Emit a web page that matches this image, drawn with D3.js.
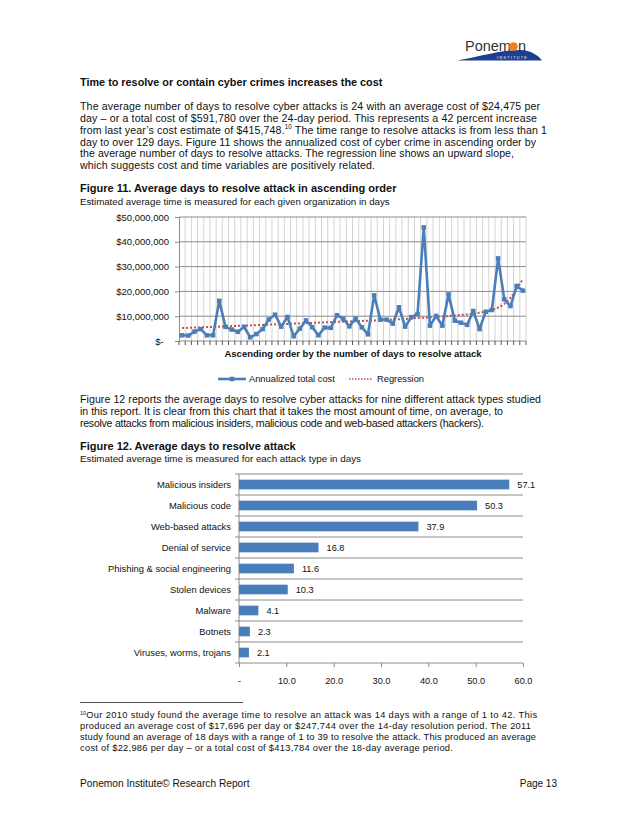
<!DOCTYPE html>
<html><head><meta charset="utf-8">
<script src="https://cdn.jsdelivr.net/npm/d3@7"></script>
<style>
html,body{margin:0;padding:0;background:#fff;}
svg{display:block;font-family:"Liberation Sans",Arial,sans-serif;}
</style></head><body>
<svg id="page" width="638" height="826"></svg>
<script>
// ---------- DATA ----------
const orgRank = [1,2,3,4,5,6,7,8,9,10,11,12,13,14,15,16,17,18,19,20,21,22,23,24,25,26,27,28,
  29,30,31,32,33,34,35,36,37,38,39,40,41,42,43,44,45,46,47,48,49,50,51,52,53,54,55,56];
// Annualized total cost, $ millions
const annualizedCost = [2.3,2.2,3.8,4.8,2.3,2.3,16.2,5.7,4.6,3.7,5.7,1.5,2.8,4.8,8.7,10.6,5.8,9.7,1.9,5.0,
  8.3,5.6,2.3,5.4,5.3,10.4,9.0,5.9,9.1,5.5,2.7,18.4,8.6,8.6,7.0,13.6,5.8,9.6,10.9,45.8,
  6.2,10.1,6.2,18.8,8.2,7.4,6.5,12.1,4.8,11.8,12.5,33.3,16.8,14.1,22.2,20.3];
// Regression (trend) line, $ millions
const regression = [5.2,5.3,5.4,5.5,5.6,5.7,5.8,5.9,6.0,6.1,6.2,6.3,6.4,6.5,6.6,6.7,6.8,6.9,7.0,7.1,
  7.2,7.3,7.4,7.5,7.6,7.7,7.8,7.9,8.0,8.1,8.2,8.3,8.4,8.5,8.6,8.8,8.9,9.1,9.3,9.4,
  9.6,9.8,9.9,10.1,10.3,10.5,10.7,11.0,11.4,11.9,12.5,13.5,15.0,17.5,21.0,25.0];
const costTicks = [0,10,20,30,40,50];

const attackTypes = ["Malicious insiders","Malicious code","Web-based attacks","Denial of service",
  "Phishing & social engineering","Stolen devices","Malware","Botnets","Viruses, worms, trojans"];
const daysToResolve = [57.1,50.3,37.9,16.8,11.6,10.3,4.1,2.3,2.1];
const dayTicks = [0,10,20,30,40,50,60];

const para1 = [
  "The average number of days to resolve cyber attacks is 24 with an average cost of $24,475 per",
  "day \u2013 or a total cost of $591,780 over the 24-day period.  This represents a 42 percent increase",
  null,
  "day to over 129 days. Figure 11 shows the annualized cost of cyber crime in ascending order by",
  "the average number of days to resolve attacks.  The regression line shows an upward slope,",
  "which suggests cost and time variables are positively related."
];
const para1Widths = [460, 457, 467, 456, 434, 295];
const para2 = [
  "Figure 12 reports the average days to resolve cyber attacks for nine different attack types studied",
  "in this report. It is clear from this chart that it takes the most amount of time, on average, to",
  "resolve attacks from malicious insiders, malicious code and web-based attackers (hackers)."
];
const para2Widths = [461, 423, 404];
const footLines = [
  "Our 2010 study found the average time to resolve an attack was 14 days with a range of 1 to 42. This",
  "produced an average cost of $17,696 per day or $247,744 over the 14-day resolution period. The 2011",
  "study found an average of 18 days with a range of 1 to 39 to resolve the attack.  This produced an average",
  "cost of $22,986 per day \u2013 or a total cost of $413,784 over the 18-day average period."
];
const footWidths = [451, 451, 456, null];

// ---------- PAGE ----------
const svg = d3.select("#page");
const txt = "#111";
const blue = "#4a7ebb";
const red = "#c0504d";
const gridDark = "#8c8c8c";
const gridLight = "#d4d4d4";

// Logo
const logo = svg.append("g");
logo.append("path")
  .attr("d","M457,60.5 C478,57 500,50 520,50 C531,50.5 538,55 542,60.5 Z")
  .attr("fill","#1d3f8f");
logo.append("text").attr("x",465).attr("y",51).attr("font-size",14.5).attr("fill","#333")
  .text("Ponem");
logo.append("circle").attr("cx",513.5).attr("cy",46.5).attr("r",4.3).attr("fill","#f0821e");
logo.append("text").attr("x",518).attr("y",51).attr("font-size",14.5).attr("fill","#333").text("n");
logo.append("text").attr("x",497).attr("y",58.5).attr("font-size",3.6).attr("fill","#fff")
  .attr("letter-spacing",1.4).text("INSTITUTE");

// Heading
svg.append("text").attr("x",80).attr("y",86).attr("font-size",10.85).attr("font-weight","bold")
  .attr("fill",txt).text("Time to resolve or contain cyber crimes increases the cost");

// Paragraph 1
const LH = 11.9;
para1.forEach((l,i)=>{
  const t = svg.append("text").attr("x",80).attr("y",109.8+i*LH).attr("font-size",10.6).attr("fill",txt)
    .attr("textLength",para1Widths[i]).attr("lengthAdjust","spacing");
  if (l !== null) t.text(l);
  else {
    t.append("tspan").text("from last year\u2019s cost estimate of $415,748.");
    t.append("tspan").attr("font-size",6.3).attr("dy",-5).text("10");
    t.append("tspan").attr("dy",5).text(" The time range to resolve attacks is from less than 1");
  }
});

svg.append("text").attr("x",80).attr("y",192.3).attr("font-size",11).attr("font-weight","bold")
  .attr("fill",txt).text("Figure 11. Average days to resolve attack in ascending order");
svg.append("text").attr("x",80).attr("y",205).attr("font-size",9.7).attr("fill",txt)
  .text("Estimated average time is measured for each given organization in days");

// ---------- Figure 11 line chart ----------
const c1 = svg.append("g");
const x1 = d3.scaleBand().domain(orgRank).range([179,526]);
const y1 = d3.scaleLinear().domain([0,50]).range([341,217]);

const bounds = orgRank.map(d=>x1(d)).concat([x1.range()[1]]);
c1.selectAll("line.vg").data(bounds.slice(1)).join("line")
  .attr("x1",d=>d).attr("x2",d=>d).attr("y1",y1(50)).attr("y2",y1(0))
  .attr("stroke",gridLight).attr("stroke-width",1);
c1.selectAll("line.hg").data(costTicks.slice(1)).join("line")
  .attr("x1",179).attr("x2",526).attr("y1",d=>y1(d)).attr("y2",d=>y1(d))
  .attr("stroke",gridDark).attr("stroke-width",1);

const yAx = c1.append("g").attr("transform","translate(179,0)")
  .call(d3.axisLeft(y1).tickValues(costTicks).tickSize(4).tickPadding(6)
    .tickFormat(d=> d===0 ? "$-\u2007" : d3.format("$,")(d*1e6)));
yAx.selectAll("path,line").attr("stroke",gridDark);
yAx.selectAll("text").attr("font-size",9.5).attr("fill",txt).attr("font-family","Liberation Sans, Arial, sans-serif");
const xAx = c1.append("g").attr("transform","translate(0,341)");
xAx.append("line").attr("x1",179).attr("x2",526).attr("stroke",gridDark);
xAx.selectAll("line.t").data(bounds).join("line")
  .attr("x1",d=>d).attr("x2",d=>d).attr("y1",0).attr("y2",4).attr("stroke","#555");

const rLine = d3.line().x((d,i)=>x1(orgRank[i])+x1.bandwidth()/2).y(d=>y1(d)).curve(d3.curveMonotoneX);
c1.append("path").datum(regression).attr("d",rLine).attr("fill","none")
  .attr("stroke",red).attr("stroke-width",2).attr("stroke-dasharray","2,2");
c1.append("path").datum(annualizedCost).attr("d",rLine.curve(d3.curveLinear)).attr("fill","none")
  .attr("stroke",blue).attr("stroke-width",2.6).attr("stroke-linejoin","round");
c1.selectAll("rect.m").data(annualizedCost).join("rect")
  .attr("x",(d,i)=>x1(orgRank[i])+x1.bandwidth()/2-2.25).attr("y",d=>y1(d)-2.25)
  .attr("width",4.5).attr("height",4.5).attr("fill",blue);

c1.append("text").attr("x",353).attr("y",356.5).attr("text-anchor","middle").attr("font-size",9.5)
  .attr("font-weight","bold").attr("fill",txt).text("Ascending order by the number of days to resolve attack");

const lg = c1.append("g");
lg.append("line").attr("x1",218).attr("x2",246).attr("y1",379).attr("y2",379).attr("stroke",blue).attr("stroke-width",2.6);
lg.append("rect").attr("x",229.75).attr("y",376.75).attr("width",4.5).attr("height",4.5).attr("fill",blue);
lg.append("text").attr("x",249).attr("y",382.3).attr("font-size",9.3).attr("fill",txt).text("Annualized total cost");
lg.append("line").attr("x1",349).attr("x2",373).attr("y1",379).attr("y2",379).attr("stroke",red)
  .attr("stroke-width",1.5).attr("stroke-dasharray","1.5,1.5");
lg.append("text").attr("x",377).attr("y",382.3).attr("font-size",9.3).attr("fill",txt).text("Regression");

// Paragraph 2
para2.forEach((l,i)=>{
  svg.append("text").attr("x",80).attr("y",402.8+i*LH).attr("font-size",10.6).attr("fill",txt)
    .attr("textLength",para2Widths[i]).attr("lengthAdjust","spacing").text(l);
});
svg.append("text").attr("x",80).attr("y",450.3).attr("font-size",11).attr("font-weight","bold")
  .attr("fill",txt).text("Figure 12. Average days to resolve attack");
svg.append("text").attr("x",80).attr("y",462).attr("font-size",9.8).attr("fill",txt)
  .text("Estimated average time is measured for each attack type in days");

// ---------- Figure 12 bar chart ----------
const c2 = svg.append("g");
const x2 = d3.scaleLinear().domain([0,60]).range([239,523]);
const y2 = d3.scaleBand().domain(attackTypes).range([474,663]).paddingInner(0.54).paddingOuter(0.27);
const rowEdges = attackTypes.map((d,i)=>474 + i*(189/9)).concat([663]);
c2.selectAll("line.g").data(rowEdges.slice(0,-1)).join("line")
  .attr("x1",239).attr("x2",523).attr("y1",d=>d).attr("y2",d=>d)
  .attr("stroke",gridDark).attr("stroke-width",1);
c2.append("line").attr("x1",239).attr("x2",239).attr("y1",474).attr("y2",663).attr("stroke",gridDark);
c2.selectAll("line.yt").data(rowEdges).join("line")
  .attr("x1",235).attr("x2",239).attr("y1",d=>d).attr("y2",d=>d).attr("stroke",gridDark);
const xAx2 = c2.append("g").attr("transform","translate(0,663)")
  .call(d3.axisBottom(x2).tickValues(dayTicks).tickSize(4).tickPadding(10)
    .tickFormat(d=> d===0 ? "-" : d3.format(".1f")(d)));
xAx2.selectAll("path,line").attr("stroke",gridDark);
xAx2.select("path").attr("d","M239,0H523");
xAx2.selectAll("text").attr("font-size",9.2).attr("fill",txt).attr("font-family","Liberation Sans, Arial, sans-serif");

c2.selectAll("rect.b").data(daysToResolve).join("rect")
  .attr("x",x2(0)).attr("y",(d,i)=>y2(attackTypes[i]))
  .attr("width",d=>x2(d)-x2(0)).attr("height",y2.bandwidth()).attr("fill",blue);
c2.selectAll("text.v").data(daysToResolve).join("text")
  .attr("x",d=>x2(d)+8).attr("y",(d,i)=>y2(attackTypes[i])+y2.bandwidth()/2+3.3)
  .attr("font-size",9.2).attr("fill",txt).text(d=>d3.format(".1f")(d));
c2.selectAll("text.c").data(attackTypes).join("text")
  .attr("x",231).attr("y",d=>y2(d)+y2.bandwidth()/2+3.3).attr("text-anchor","end")
  .attr("font-size",9.4).attr("fill",txt).text(d=>d);

// ---------- Footnote ----------
svg.append("line").attr("x1",80).attr("x2",243).attr("y1",702.5).attr("y2",702.5).attr("stroke","#222").attr("stroke-width",0.8);
footLines.forEach((l,i)=>{
  const t = svg.append("text").attr("x",80).attr("y",718.3+i*10.9).attr("font-size",9.3).attr("fill",txt);
  let host = t;
  if (i===0) {
    t.append("tspan").attr("font-size",5.5).attr("dy",-3.5).text("10");
    host = t.append("tspan").attr("dy",3.5);
  }
  if (footWidths[i]) host.attr("textLength",footWidths[i]).attr("lengthAdjust","spacing");
  else host.attr("letter-spacing",0.28);
  host.text(l);
});

// Footer
svg.append("text").attr("x",80).attr("y",786.5).attr("font-size",10.2).attr("fill",txt)
  .text("Ponemon Institute\u00a9 Research Report");
svg.append("text").attr("x",557).attr("y",786.5).attr("text-anchor","end").attr("font-size",10).attr("fill",txt)
  .text("Page 13");
</script>
</body></html>
